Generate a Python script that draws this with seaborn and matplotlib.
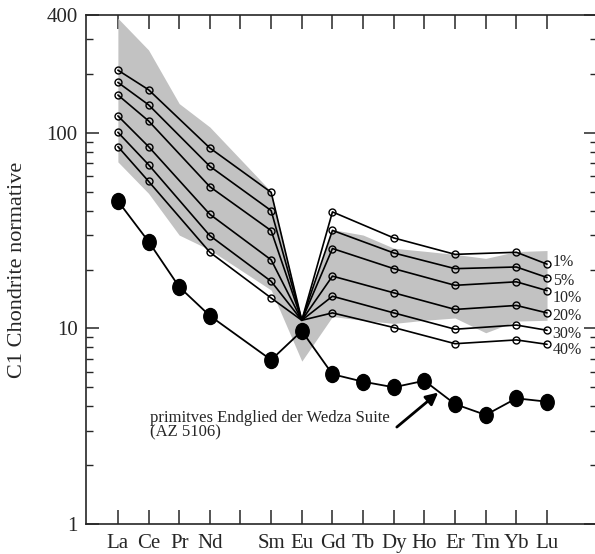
import numpy as np
import pandas as pd
import matplotlib
matplotlib.use('Agg')
import matplotlib.pyplot as plt
import seaborn as sns
from matplotlib.markers import MarkerStyle
from matplotlib.transforms import Affine2D
from matplotlib.ticker import FixedLocator, NullFormatter

# REE axis: atomic numbers 57 (La) .. 71 (Lu)
ree_labels = ['La', 'Ce', 'Pr', 'Nd', '', 'Sm', 'Eu', 'Gd', 'Tb', 'Dy', 'Ho', 'Er', 'Tm', 'Yb', 'Lu']
ree_z = [57, 58, 59, 60, 61, 62, 63, 64, 65, 66, 67, 68, 69, 70, 71]
zmap = {'La': 57, 'Ce': 58, 'Pr': 59, 'Nd': 60, 'Pm': 61, 'Sm': 62, 'Eu': 63, 'Gd': 64,
        'Tb': 65, 'Dy': 66, 'Ho': 67, 'Er': 68, 'Tm': 69, 'Yb': 70, 'Lu': 71}

# primitive end member of the Wedza suite (AZ 5106)
sample_el = ['La', 'Ce', 'Pr', 'Nd', 'Sm', 'Eu', 'Gd', 'Tb', 'Dy', 'Ho', 'Er', 'Tm', 'Yb', 'Lu']
sample_val = [44.8, 27.8, 16.3, 11.6, 6.9, 9.7, 5.83, 5.34, 5.0, 5.4, 4.1, 3.61, 4.39, 4.22]

# model melts, degree of partial melting
melt_el = ['La', 'Ce', 'Nd', 'Sm', 'Eu', 'Gd', 'Dy', 'Er', 'Yb', 'Lu']
melt_names = ['1%', '5%', '10%', '20%', '30%', '40%']
melt_1 = [209, 166, 83.6, 49.6, 11, 39.4, 29.0, 23.9, 24.5, 21.3]
melt_5 = [181, 139, 67.4, 40.0, 11, 31.7, 24.3, 20.2, 20.6, 18.2]
melt_10 = [156, 115, 53.0, 31.6, 11, 25.6, 20.2, 16.6, 17.3, 15.6]
melt_20 = [122, 85, 38.3, 22.4, 11, 18.5, 15.2, 12.5, 13.1, 12.0]
melt_30 = [100.6, 68.7, 29.8, 17.4, 11, 14.6, 12.0, 9.9, 10.4, 9.78]
melt_40 = [85, 56.5, 24.5, 14.3, 11, 12.0, 10.1, 8.35, 8.73, 8.29]
# small vertical nudges of the % labels (points), as in the original
label_nudge = [2.4, -1.5, -4.3, -1.0, -1.8, -2.8]

# grey field
env_el = ['La', 'Ce', 'Pr', 'Nd', 'Sm', 'Eu', 'Gd', 'Tb', 'Dy', 'Ho', 'Er', 'Tm', 'Yb', 'Lu']
env_upper = [385, 265, 141, 107, 50, 11, 32, 30, 25.7, 24.8, 23.9, 22.8, 24.7, 25]
env_lower = [71, 49, 30, 25.2, 15.7, 6.8, 11.5, 11, 10.6, 11, 11.3, 9.5, 10.9, 11]

sns.set_style('ticks')
plt.rcParams['font.family'] = ['Liberation Serif', 'DejaVu Serif']

fig = plt.figure(figsize=(5.95, 5.54), dpi=100)
ax = fig.add_axes([86 / 595, 30 / 554, 511 / 595, 509 / 554])

# envelope
ax.fill_between([zmap[e] for e in env_el], env_lower, env_upper,
                color='#c2c2c2', lw=0, zorder=1)

# melt curves
melts = [melt_1, melt_5, melt_10, melt_20, melt_30, melt_40]
mx = [zmap[e] for e in melt_el]
no_eu = [i for i, e in enumerate(melt_el) if e != 'Eu']
for name, vals, dy in zip(melt_names, melts, label_nudge):
    df = pd.DataFrame({'z': mx, 'v': vals})
    sns.lineplot(data=df, x='z', y='v', ax=ax, color='k', lw=1.2, sort=False,
                 marker='o', markersize=5, markerfacecolor='none',
                 markeredgecolor='k', markeredgewidth=1.0, markevery=no_eu, zorder=3)
    ax.annotate(name, xy=(zmap['Lu'], vals[-1]), xytext=(4, dy - 1),
                textcoords='offset points', ha='left', va='center',
                fontsize=11.5, zorder=4)

# sample
ell = MarkerStyle('o', transform=Affine2D().scale(0.84, 1.0))
sdf = pd.DataFrame({'z': [zmap[e] for e in sample_el], 'v': sample_val})
sns.lineplot(data=sdf, x='z', y='v', ax=ax, color='k', lw=1.3, sort=False,
             marker=ell, markersize=11.5, markerfacecolor='k',
             markeredgecolor='k', markeredgewidth=1.0, zorder=5)

ax.annotate('', xy=(67.45, 4.7), xytext=(66.1, 3.13),
            arrowprops=dict(arrowstyle='-|>', color='k', lw=2, mutation_scale=18,
                            shrinkA=0, shrinkB=0), zorder=6)
ax.text(58.04, 3.2, 'primitves Endglied der Wedza Suite\n(AZ 5106)', ha='left',
        va='center', fontsize=12, linespacing=0.82)

ax.set_yscale('log')
ax.set_ylim(1, 400)
ax.set_xlim(55.96, 72.63)
ax.yaxis.set_major_locator(FixedLocator([1, 10, 100, 400]))
ax.set_yticklabels(['1', '10', '100', '400'])
minors = [m * 10 ** d for d in range(0, 3) for m in range(2, 10)]
ax.yaxis.set_minor_locator(FixedLocator([v for v in minors if v < 400]))
ax.yaxis.set_minor_formatter(NullFormatter())
ax.set_xticks(ree_z)
ax.set_xticklabels(ree_labels)
ax.tick_params(axis='x', which='both', direction='in', top=True, bottom=True,
               length=10, width=1.1, labelsize=15, pad=7)
ax.tick_params(axis='y', which='major', direction='in', left=True, right=True,
               length=9.5, width=1.1, labelsize=15, pad=6)
ax.tick_params(axis='y', which='minor', direction='in', left=True, right=True,
               length=5, width=1.0)
for s in ax.spines.values():
    s.set_linewidth(1.2)
    s.set_visible(True)
ax.set_xlabel('')
ax.set_ylabel('C1 Chondrite normative', fontsize=16, labelpad=14)

fig.savefig('out.png', dpi=100)
